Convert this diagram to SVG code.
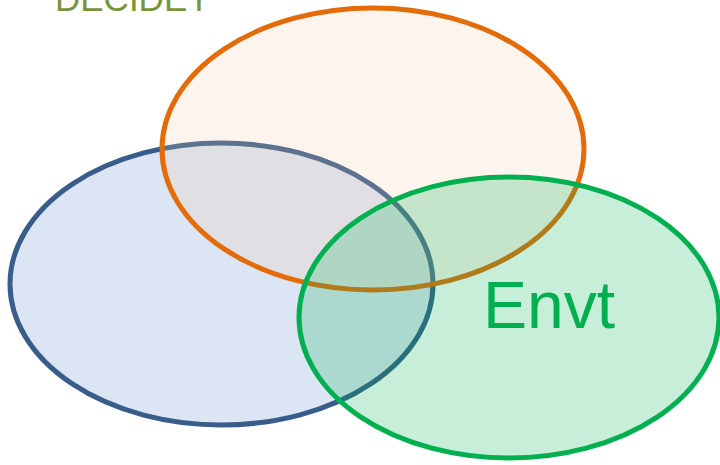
<svg xmlns="http://www.w3.org/2000/svg" width="720" height="465" viewBox="0 0 720 465">
<style>
.lbl{font-family:"Liberation Sans","Open Sans",Arial,sans-serif}
</style>
<rect width="720" height="465" fill="#ffffff"/>
<g id="title"><text class="lbl" x="55" y="11" font-size="35" fill="#77933C">DECIDEY</text></g>
<g id="node-blue"><ellipse cx="221.5" cy="284" rx="211.5" ry="141" fill="#DBE5F3" stroke="#385D8A" stroke-width="5"/></g>
<g id="node-orange"><ellipse cx="373" cy="149" rx="211" ry="141" fill="#F5C6A7" fill-opacity="0.2" stroke="#E36C09" stroke-width="5"/></g>
<g id="node-green"><ellipse cx="509" cy="317.5" rx="210" ry="140.5" fill="#00B050" fill-opacity="0.22" stroke="#00B050" stroke-width="5"/>
<text class="lbl" x="483" y="328" font-size="66" fill="#00B050">Envt</text></g>
<g id="connectors"></g>
</svg>
